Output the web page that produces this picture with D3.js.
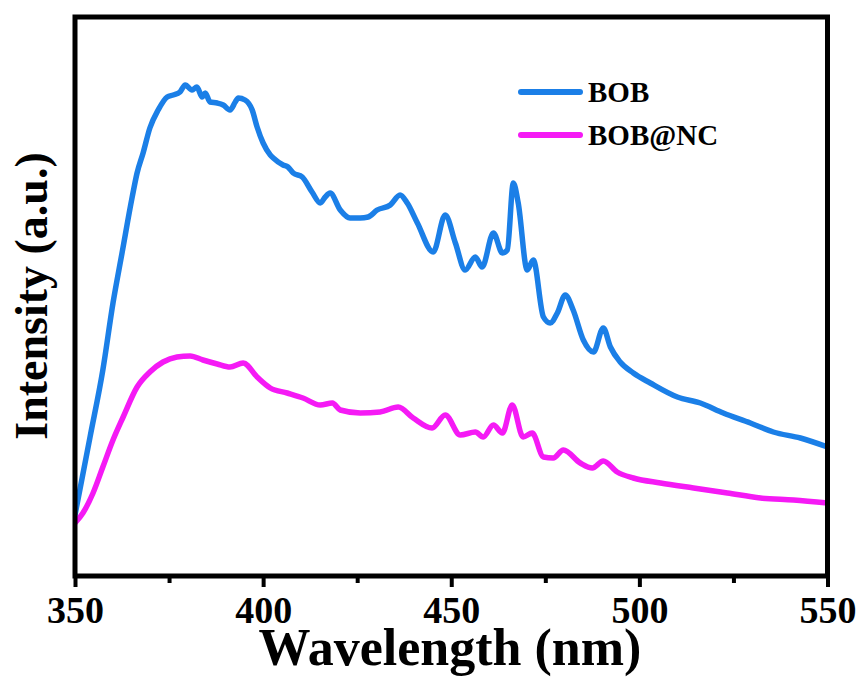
<!DOCTYPE html>
<html><head><meta charset="utf-8">
<script src="https://cdn.jsdelivr.net/npm/d3@7/dist/d3.min.js"></script>
<style>body{margin:0;background:#fff;}svg{display:block;}</style>
</head><body>
<svg id="c" width="861" height="678"></svg>
<script>
// Data (wavelength nm, intensity a.u.)
const bobWavelength = [350.0,354.0,357.4,360.1,362.5,365.2,366.5,368.1,369.9,372.1,374.5,376.1,377.9,379.3,381.1,382.4,383.8,384.6,385.9,387.8,389.4,391.2,392.6,393.4,395.2,397.1,398.4,400.0,401.9,402.7,405.3,406.6,408.0,410.4,413.0,415.2,416.5,417.8,420.5,423.1,425.8,427.9,430.3,433.8,436.4,438.3,441.0,445.2,448.4,451.1,453.7,456.4,458.2,461.2,463.6,464.9,466.5,467.8,470.2,471.8,474.5,476.3,478.2,480.3,482.4,485.1,487.8,490.4,492.3,494.9,498.4,502.9,510.1,516.2,522.3,529.5,535.6,542.8,550.0];
const bobIntensity = [61,139,206,273,323,379,403,423,448,466,479,481,484,491,486,489,479,483,474,473,471,466,474,478,476,466,449,433,421,418,411,409,403,399,384,373,379,383,366,358,358,359,366,371,381,373,353,324,361,333,306,319,309,343,323,326,393,373,306,316,259,253,263,281,266,236,224,248,229,214,203,193,179,173,163,153,144,138,129];
const ncWavelength = [350.0,352.1,354.8,357.4,360.1,362.8,366.5,369.9,373.4,377.1,380.6,384.0,387.8,391.2,394.7,398.4,401.9,406.4,410.6,415.2,418.4,420.5,425.8,431.1,435.9,439.9,444.9,448.4,452.4,456.4,458.5,461.2,463.6,466.2,469.1,471.5,474.5,477.1,479.8,484.3,487.5,490.4,494.1,498.4,505.6,514.4,523.4,532.2,541.0,550.0];
const ncIntensity = [53,63,83,109,136,159,189,204,214,219,220,216,212,209,213,199,188,183,178,171,173,166,163,164,169,158,148,161,141,144,139,151,143,171,139,143,119,118,126,113,108,115,104,98,93,88,83,78,76,73];
const seriesNames = ["BOB","BOB@NC"];
const seriesColors = ["#1b7fe7","#f51af5"];
const xTicks = [350,400,450,500,550];
const xMinorTicks = [375,425,475,525];

const svg = d3.select("#c");
const L=75, R=827.5, T=17, B=576;
const x = d3.scaleLinear().domain([350,550]).range([L,R]);
const y = d3.scaleLinear().domain([0,559]).range([B,T]);
const font = "'Liberation Serif','Times New Roman',serif";

const series = [
  {name:seriesNames[0], color:seriesColors[0], data:bobWavelength.map((w,i)=>[w,bobIntensity[i]])},
  {name:seriesNames[1], color:seriesColors[1], data:ncWavelength.map((w,i)=>[w,ncIntensity[i]])}
];
const line = d3.line().x(d=>x(d[0])).y(d=>y(d[1])).curve(d3.curveMonotoneX);

svg.append("defs").append("clipPath").attr("id","clip").append("rect")
  .attr("x",L).attr("y",T).attr("width",R-L).attr("height",B-T);

const g = svg.append("g").attr("clip-path","url(#clip)");
series.forEach(s=>{
  g.append("path").datum(s.data).attr("d",line).attr("fill","none")
   .attr("stroke",s.color).attr("stroke-width",5.5)
   .attr("stroke-linejoin","round").attr("stroke-linecap","round");
});

// ticks
const ax = svg.append("g").attr("transform",`translate(0,${B})`);
ax.call(d3.axisBottom(x).tickValues(xMinorTicks).tickSize(7).tickFormat(""))
  .call(a=>a.select(".domain").remove())
  .call(a=>a.selectAll("line").attr("stroke","#000").attr("stroke-width",4));
const ax2 = svg.append("g").attr("transform",`translate(0,${B})`);
ax2.call(d3.axisBottom(x).tickValues(xTicks).tickSize(11).tickPadding(36).tickFormat(d3.format("d")))
  .call(a=>a.select(".domain").remove())
  .call(a=>a.selectAll("line").attr("stroke","#000").attr("stroke-width",4))
  .call(a=>a.selectAll("text").attr("fill","#000").attr("font-family",font)
        .attr("font-weight","bold").attr("font-size","38px").attr("dy","0"));

// frame
svg.append("rect").attr("x",L).attr("y",T).attr("width",R-L).attr("height",B-T)
  .attr("fill","none").attr("stroke","#000").attr("stroke-width",5);

// axis titles
svg.append("text").attr("x",450).attr("y",665).attr("text-anchor","middle")
  .attr("font-family",font).attr("font-weight","bold").attr("font-size","52px").text("Wavelength (nm)");
svg.append("text").attr("transform",`translate(47,${296}) rotate(-90)`).attr("text-anchor","middle")
  .attr("font-family",font).attr("font-weight","bold").attr("font-size","46px").text("Intensity (a.u.)");

// legend
const leg = svg.append("g");
series.forEach((s,i)=>{
  const ly = 92 + i*43;
  leg.append("line").attr("x1",521).attr("x2",580).attr("y1",ly).attr("y2",ly)
    .attr("stroke",s.color).attr("stroke-width",6).attr("stroke-linecap","round");
  leg.append("text").attr("x",588).attr("y",ly+10).attr("font-family",font)
    .attr("font-weight","bold").attr("font-size","29px").text(s.name);
});
</script>
</body></html>
